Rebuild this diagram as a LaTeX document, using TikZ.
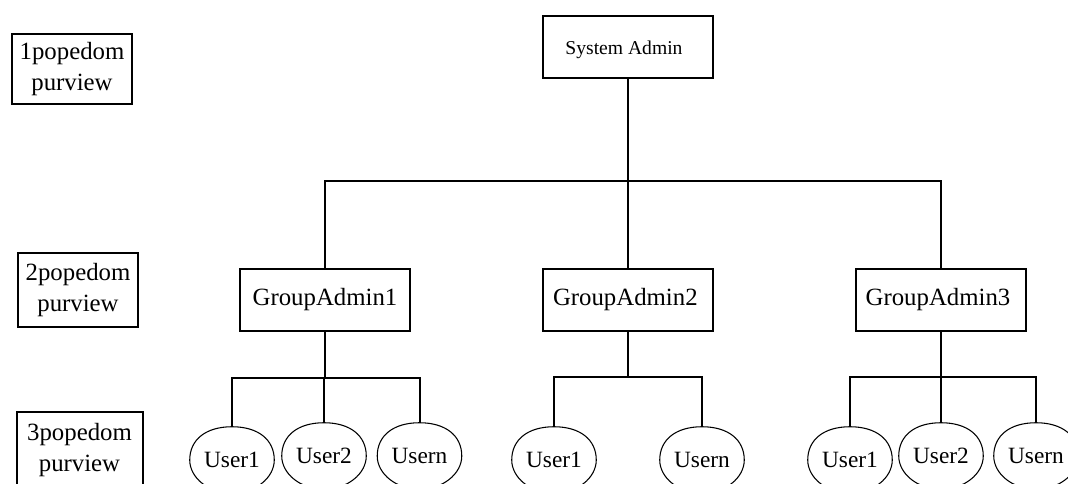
\documentclass[tikz,border=0pt]{standalone}
\usepackage{fontspec}
\setmainfont{Liberation Serif}
\usetikzlibrary{shapes.geometric}
\tikzset{
  x=0.75pt,y=-0.75pt,
  conn/.style={draw=black,line width=1.5pt},
  levelbox/.style={draw=black,line width=1.5pt,align=center,inner sep=0pt,minimum width=90.5pt,font=\fontsize{18.6}{23}\selectfont},
  adminbox/.style={draw=black,line width=1.5pt,inner sep=0pt,minimum width=128pt,minimum height=46.5pt,font=\fontsize{18.6}{22}\selectfont},
  userell/.style={ellipse,inner sep=0pt,minimum width=63pt,minimum height=49.5pt,font=\fontsize{17.5}{20}\selectfont},
  userline/.style={draw=black,line width=0.8pt},
}
\begin{document}
\begin{tikzpicture}
\useasboundingbox (0,0) rectangle (1068,483);
\node[levelbox,minimum height=52.5pt] (l1) at (72,69) {1popedom\\purview};
\node[levelbox,minimum height=56pt] (l2) at (78,290) {2popedom\\purview};
\node[levelbox,minimum width=94.5pt,minimum height=57pt] (l3) at (79.5,450) {3popedom\\purview};

\node[adminbox,font=\fontsize{14.7}{18}\selectfont,text height=14pt,text depth=3pt] (sys) at (628,47) {System Admin\hspace*{6pt}};
\node[adminbox] (g1) at (325,300) {GroupAdmin1};
\node[adminbox] (g2) at (628,300) {GroupAdmin2\hspace*{4pt}};
\node[adminbox] (g3) at (941,300) {GroupAdmin3\hspace*{4.5pt}};

\node[userell] (u11) at (232,460) {User1};
\node[userell] (u12) at (324,456) {User2};
\node[userell] (u13) at (419.5,456) {Usern};
\node[userell] (u21) at (554,460) {User1};
\node[userell] (u23) at (702,460) {Usern};
\node[userell] (u31) at (850,460) {User1};
\node[userell] (u32) at (941,456) {User2};
\node[userell] (u33) at (1036,456) {Usern};

\foreach \n in {u11,u12,u13,u21,u23,u31,u32,u33}
  \draw[userline] (\n.west) .. controls +(0,-20.5) and +(-26,0) .. (\n.north)
    .. controls +(26,0) and +(0,-20.5) .. (\n.east)
    .. controls +(0,18) and +(23,0) .. (\n.south)
    .. controls +(-23,0) and +(0,18) .. (\n.west) -- cycle;

\coordinate (bus0) at (628,181);
\coordinate (bus1) at (325,378);
\coordinate (bus2) at (628,377);
\coordinate (bus3) at (941,377);

\draw[conn] (sys.south) -- (bus0);
\draw[conn] (g2.north) -- (bus0);
\draw[conn] (g1.north) |- (bus0);
\draw[conn] (g3.north) |- (bus0);

\draw[conn] (g1.south) -- (bus1);
\draw[conn] (u11.north) |- (bus1);
\draw[conn] (u12.north) -- (u12.north |- bus1);
\draw[conn] (u13.north) |- (bus1);

\draw[conn] (g2.south) -- (bus2);
\draw[conn] (u21.north) |- (bus2);
\draw[conn] (u23.north) |- (bus2);

\draw[conn] (g3.south) -- (bus3);
\draw[conn] (u31.north) |- (bus3);
\draw[conn] (u32.north) -- (bus3);
\draw[conn] (u33.north) |- (bus3);
\end{tikzpicture}
\end{document}
